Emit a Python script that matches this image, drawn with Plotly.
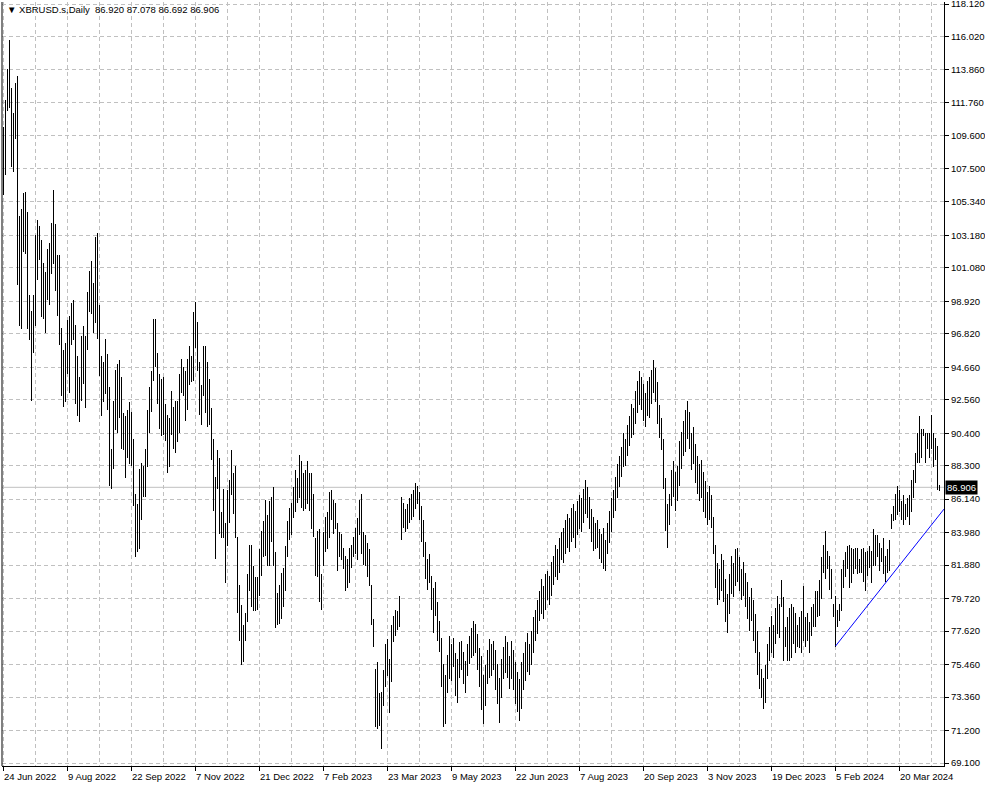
import plotly.graph_objects as go

symbol_title = "XBRUSD.s,Daily"
last_ohlc = [86.920, 87.078, 86.692, 86.906]
date_labels = ["24 Jun 2022", "9 Aug 2022", "22 Sep 2022", "7 Nov 2022", "21 Dec 2022",
               "7 Feb 2023", "23 Mar 2023", "9 May 2023", "22 Jun 2023", "7 Aug 2023",
               "20 Sep 2023", "3 Nov 2023", "19 Dec 2023", "5 Feb 2024", "20 Mar 2024"]
label_bars = list(range(0, 449, 32))
grid_bars_minor = list(range(16, 470, 32))
tick_prices = [118.12, 116.02, 113.86, 111.76, 109.60, 107.50, 105.34, 103.18, 101.08,
               98.92, 96.82, 94.66, 92.56, 90.40, 88.30, 86.14, 83.98, 81.88, 79.72,
               77.62, 75.46, 73.36, 71.20, 69.10]

highs = [
    110.2, 111.9, 113.9, 115.8, 112.7, 111.1, 113.0, 113.5, 104.4, 104.9,
    105.9, 106.0, 104.7, 99.3, 98.3, 99.3, 103.2, 104.2, 103.8, 102.9,
    101.4, 100.8, 102.3, 102.7, 104.0, 106.1, 103.9, 101.9, 101.9, 97.2,
    95.8, 96.2, 97.7, 98.0, 98.8, 99.0, 97.4, 95.4, 94.0, 96.7,
    97.3, 96.7, 99.5, 100.9, 101.5, 100.1, 103.1, 103.3, 98.7, 95.4,
    95.0, 96.5, 95.5, 93.4, 89.4, 92.5, 94.5, 94.9, 95.1, 94.0,
    91.7, 91.5, 91.9, 92.4, 91.8, 90.0, 86.5, 85.8, 88.1, 88.5,
    88.3, 89.4, 91.9, 93.4, 94.4, 97.8, 97.8, 95.6, 94.2, 93.9,
    94.0, 92.3, 91.6, 91.4, 93.1, 92.1, 92.5, 92.5, 94.2, 95.2,
    94.7, 94.4, 95.2, 96.0, 95.4, 98.2, 98.9, 97.6, 95.0, 93.5,
    96.0, 96.0, 95.0, 93.9, 92.0, 90.0, 87.6, 89.3, 88.8, 85.3,
    86.8, 84.6, 86.7, 87.4, 89.3, 87.8, 88.3, 83.7, 80.6, 79.3,
    78.0, 78.8, 81.3, 83.2, 83.2, 81.8, 81.1, 81.1, 82.9, 84.1,
    84.7, 86.1, 85.1, 86.0, 86.3, 86.9, 82.7, 80.1, 80.6, 81.4,
    81.7, 83.1, 84.7, 85.6, 85.9, 86.9, 88.0, 87.5, 89.0, 88.6,
    87.8, 88.0, 88.6, 87.8, 87.8, 86.5, 83.6, 84.1, 84.2, 81.3,
    84.0, 85.0, 85.3, 86.6, 86.7, 86.1, 85.9, 84.6, 84.0, 83.9,
    83.0, 82.5, 82.3, 83.0, 83.2, 83.7, 84.3, 84.9, 86.1, 86.5,
    84.0, 83.8, 83.3, 82.9, 80.6, 78.4, 75.2, 75.6, 73.6, 73.7,
    75.1, 76.8, 77.1, 75.8, 78.0, 78.6, 79.0, 78.9, 79.9, 86.3,
    85.9, 85.5, 85.8, 86.2, 86.5, 86.7, 87.2, 87.0, 86.6, 85.7,
    84.8, 83.4, 82.3, 82.6, 81.2, 80.4, 80.8, 79.5, 78.3, 77.2,
    75.5, 74.8, 76.1, 77.3, 76.8, 77.2, 76.2, 75.8, 76.9, 77.0,
    76.3, 75.7, 76.8, 77.3, 77.8, 78.3, 78.1, 77.4, 76.5, 76.0,
    74.8, 75.4, 76.4, 77.1, 76.8, 77.0, 76.4, 75.5, 74.6, 75.8,
    76.6, 77.3, 76.9, 76.0, 77.0, 76.4, 75.6, 75.0, 74.5, 75.6,
    76.2, 76.9, 77.5, 76.8, 77.6, 78.5, 79.0, 79.6, 80.2, 81.0,
    80.5, 81.3, 81.5, 81.2, 82.1, 82.5, 83.2, 82.9, 83.6, 84.0,
    84.3, 84.8, 85.2, 84.9, 85.6, 85.8, 85.4, 86.0, 86.4, 86.2,
    86.8, 87.4, 86.9, 86.3, 85.5, 85.0, 84.6, 84.8, 84.2, 83.9,
    84.3, 83.5, 84.6, 85.4, 86.2, 86.7, 87.6, 88.4, 88.9, 89.5,
    90.4, 90.0, 90.9, 91.5, 92.3, 92.0, 93.1, 93.8, 94.4, 94.0,
    93.6, 93.0, 93.8, 94.0, 94.5, 95.1, 94.6, 93.7, 92.2, 91.4,
    90.0, 87.5, 85.8, 86.5, 88.0, 88.6, 87.9, 88.3, 89.9, 90.5,
    91.2, 91.9, 92.5, 91.8, 90.4, 90.8, 89.7, 88.9, 88.4, 88.7,
    87.9, 87.3, 86.6, 87.0, 86.4, 85.0, 83.2, 82.0, 81.6, 82.6,
    82.2, 81.0, 80.0, 81.3, 82.5, 82.0, 82.9, 83.0, 82.4, 81.6,
    82.1, 81.4, 80.8, 79.8, 80.4, 79.6, 78.7, 77.6, 76.3, 75.2,
    74.6, 75.4, 76.8, 77.9, 78.6, 78.0, 79.1, 79.9, 79.4, 80.9,
    79.8, 77.9, 78.5, 79.1, 79.4, 79.2, 78.8, 78.0, 78.5, 78.9,
    80.5, 78.5, 78.8, 78.2, 79.2, 79.4, 80.2, 80.2, 80.9, 82.4,
    83.2, 84.1, 82.8, 82.5, 81.6, 79.4, 79.9, 79.0, 79.4, 81.6,
    82.2, 82.7, 83.1, 83.2, 83.0, 82.9, 83.0, 83.0, 82.3, 82.9,
    83.0, 82.7, 82.8, 83.1, 82.8, 84.2, 83.8, 83.8, 83.3, 83.0,
    83.6, 82.5, 82.9, 83.5, 85.2, 85.7, 86.5, 87.0, 86.7, 86.0,
    86.4, 85.8, 86.2, 86.4, 87.4, 88.0, 89.1, 90.4, 91.5, 90.7,
    90.7, 90.4, 90.4, 90.4, 91.6, 90.4, 90.1, 89.6, 87.078,
]

lows = [
    105.8, 107.1, 111.2, 111.4, 107.6, 107.3, 109.4, 100.0, 97.3, 97.1,
    102.1, 102.0, 97.1, 96.4, 92.5, 95.6, 97.3, 100.3, 101.6, 97.9,
    97.8, 96.9, 99.0, 98.7, 100.7, 101.3, 99.6, 98.0, 96.1, 92.8,
    92.1, 92.4, 94.2, 93.0, 96.1, 96.4, 92.3, 91.5, 91.1, 92.5,
    93.6, 92.0, 95.8, 98.2, 98.1, 96.9, 97.5, 96.5, 94.1, 91.5,
    92.4, 92.9, 91.9, 87.0, 86.8, 88.1, 90.6, 90.4, 91.4, 89.4,
    89.3, 87.5, 88.8, 88.4, 88.3, 85.7, 82.4, 82.7, 82.9, 84.8,
    86.3, 86.3, 88.2, 90.4, 91.8, 93.8, 94.7, 92.3, 90.7, 90.2,
    90.3, 89.9, 87.8, 88.2, 90.3, 89.4, 89.1, 89.8, 90.4, 93.0,
    92.8, 91.2, 91.9, 93.5, 93.7, 93.8, 95.9, 94.4, 91.6, 90.9,
    92.8, 91.7, 90.8, 90.9, 88.7, 85.4, 82.3, 86.8, 83.9, 83.6,
    83.6, 80.7, 83.1, 84.6, 86.4, 85.2, 83.6, 78.8, 77.0, 75.4,
    75.6, 77.0, 78.2, 80.2, 79.2, 78.9, 78.9, 79.0, 79.9, 81.2,
    82.4, 82.5, 81.8, 81.8, 83.4, 81.8, 77.8, 78.0, 78.1, 78.4,
    79.2, 80.2, 82.4, 83.5, 83.8, 84.9, 85.3, 85.9, 86.2, 85.6,
    85.4, 85.5, 85.8, 85.4, 84.2, 83.7, 81.2, 81.1, 79.5, 79.0,
    81.8, 82.7, 82.9, 83.6, 84.8, 83.9, 84.2, 81.5, 82.4, 82.2,
    81.6, 80.2, 80.4, 80.7, 81.7, 82.4, 82.6, 82.2, 83.8, 82.6,
    81.9, 81.8, 81.1, 80.5, 78.0, 76.6, 71.4, 71.3, 71.5, 70.0,
    72.8, 74.0, 74.7, 72.3, 74.3, 76.9, 77.3, 77.7, 77.9, 83.5,
    84.3, 84.0, 84.2, 84.6, 84.8, 85.0, 85.5, 85.8, 84.8, 83.4,
    82.4, 81.0, 80.3, 80.7, 79.0, 77.5, 78.6, 77.0, 76.3, 74.0,
    71.4, 71.6, 73.6, 74.5, 74.4, 75.3, 73.4, 73.0, 74.6, 75.1,
    74.2, 73.6, 74.7, 75.5, 75.9, 76.0, 76.2, 75.1, 74.0, 72.5,
    71.6, 72.8, 74.2, 74.6, 74.7, 75.1, 73.8, 72.9, 71.7, 73.3,
    74.5, 74.9, 74.6, 73.9, 74.5, 73.8, 72.9, 72.4, 71.8, 72.6,
    73.8, 74.4, 75.0, 74.8, 75.4, 76.2, 77.0, 77.4, 78.3, 78.7,
    78.4, 79.0, 79.6, 79.3, 79.9, 80.6, 81.1, 80.9, 81.4, 82.2,
    82.0, 82.6, 83.0, 82.7, 83.4, 83.6, 83.0, 83.8, 84.2, 84.0,
    84.6, 85.2, 84.9, 84.2, 83.4, 82.8, 82.9, 83.0, 82.3, 82.0,
    81.6, 81.5, 82.6, 83.3, 84.0, 84.9, 85.4, 86.2, 86.9, 87.6,
    88.2, 88.3, 88.9, 89.6, 90.1, 90.3, 91.0, 91.7, 92.2, 91.9,
    91.2, 90.8, 91.5, 91.4, 92.3, 93.0, 92.4, 91.0, 90.1, 89.3,
    86.8, 84.1, 83.0, 84.5, 85.7, 86.3, 85.4, 86.0, 87.0, 88.1,
    88.9, 89.2, 90.0, 89.4, 88.0, 88.4, 87.2, 86.5, 86.0, 86.2,
    85.3, 84.9, 84.5, 84.8, 84.3, 82.6, 80.4, 79.3, 79.6, 80.2,
    79.5, 78.2, 77.5, 78.7, 80.0, 79.8, 80.5, 80.8, 80.2, 79.6,
    79.9, 79.2, 78.4, 77.6, 78.3, 77.0, 76.2, 74.8, 73.9, 73.3,
    72.6, 73.0, 74.5, 75.7, 76.2, 75.9, 76.8, 77.4, 77.2, 79.2,
    75.7, 76.6, 75.7, 75.7, 75.9, 76.8, 76.2, 76.6, 76.5, 76.2,
    77.0, 76.6, 77.0, 76.2, 77.3, 77.9, 77.9, 78.5, 78.6, 79.7,
    81.4, 81.0, 81.6, 80.3, 79.7, 78.5, 76.6, 77.9, 78.3, 78.9,
    80.4, 81.1, 81.6, 80.4, 80.7, 81.3, 81.6, 81.3, 81.4, 81.4,
    80.8, 80.2, 81.2, 81.7, 80.7, 81.8, 81.8, 82.4, 81.5, 82.1,
    81.3, 80.8, 81.4, 81.5, 84.2, 84.7, 84.8, 85.1, 85.3, 84.8,
    84.5, 84.8, 85.0, 84.5, 85.3, 86.2, 87.2, 88.5, 88.5, 88.8,
    90.2, 88.5, 89.4, 88.8, 89.4, 88.2, 88.7, 86.7, 86.692,
]

trend_bars = [416, 470.25]
trend_prices = [76.65, 85.50]

n = min(len(highs), len(lows))
bar_idx = list(range(n))
spans = [highs[i] - lows[i] for i in range(n)]

GRID = "#c0c0c0"
FONT = "Liberation Sans"
FS = 9.5

fig = go.Figure()
fig.add_trace(go.Bar(
    x=bar_idx, base=lows[:n], y=spans, width=0.5,
    marker=dict(color="black", line=dict(width=0)),
    hoverinfo="skip", showlegend=False,
))
fig.add_trace(go.Scatter(
    x=trend_bars, y=trend_prices, mode="lines",
    line=dict(color="#0000ff", width=1), hoverinfo="skip", showlegend=False,
))

annotations = []
for b, lab in zip(label_bars, date_labels):
    annotations.append(dict(
        x=b, xref="x", y=0, yref="paper", text=lab, showarrow=False,
        xanchor="left", yanchor="top", xshift=-2, yshift=-3,
        font=dict(family=FONT, size=FS, color="black"),
    ))
title_text = "\u25bc " + symbol_title + "\u00a0\u00a0" + " ".join(f"{v:.3f}" for v in last_ohlc)
annotations.append(dict(
    x=0, xref="paper", y=1, yref="paper", text=title_text, showarrow=False,
    xanchor="left", yanchor="top", xshift=3, yshift=0,
    font=dict(family=FONT, size=FS, color="black"),
))
annotations.append(dict(
    x=1, xref="paper", y=last_ohlc[3], yref="y", text=f"{last_ohlc[3]:.3f}",
    showarrow=False, xanchor="left", yanchor="middle", xshift=1,
    bgcolor="black", borderpad=1,
    font=dict(family=FONT, size=FS, color="white"),
))

shapes = [
    dict(type="line", xref="paper", yref="y", x0=0, x1=1,
         y0=last_ohlc[3], y1=last_ohlc[3], line=dict(color="#c0c0c0", width=1), layer="below"),
    dict(type="line", xref="paper", yref="paper", x0=0, x1=0, y0=0, y1=1,
         line=dict(color="black", width=1)),
]

fig.update_layout(
    width=985, height=787,
    margin=dict(l=2, r=41, t=2, b=21, autoexpand=False),
    paper_bgcolor="white", plot_bgcolor="white",
    bargap=0, showlegend=False,
    font=dict(family=FONT, size=FS, color="black"),
    annotations=annotations, shapes=shapes,
    xaxis=dict(
        range=[-0.75, 470.25], tickmode="array", tickvals=label_bars,
        showticklabels=False, ticks="outside", ticklen=4, tickcolor="black",
        showline=True, linecolor="black", linewidth=1,
        showgrid=True, gridcolor=GRID, griddash="4px,3px", gridwidth=1,
        zeroline=False, fixedrange=True, automargin=False,
        minor=dict(tickmode="array", tickvals=grid_bars_minor, showgrid=True,
                   gridcolor=GRID, griddash="4px,3px", ticks=""),
    ),
    yaxis=dict(
        side="right", range=[68.906, 118.249], tickmode="array",
        tickvals=tick_prices, ticktext=[f"{v:.3f}" for v in tick_prices],
        ticks="outside", ticklen=4, tickcolor="black",
        showline=True, linecolor="black", linewidth=1,
        showgrid=True, gridcolor=GRID, griddash="4px,3px", gridwidth=1,
        zeroline=False, fixedrange=True, automargin=False,
        ticklabeloverflow="allow",
        tickfont=dict(family=FONT, size=FS, color="black"),
    ),
)

fig.write_html(
    "out.html",
    config={"displayModeBar": False},
    post_script="document.body.style.margin='0';document.body.style.overflow='hidden';",
)
